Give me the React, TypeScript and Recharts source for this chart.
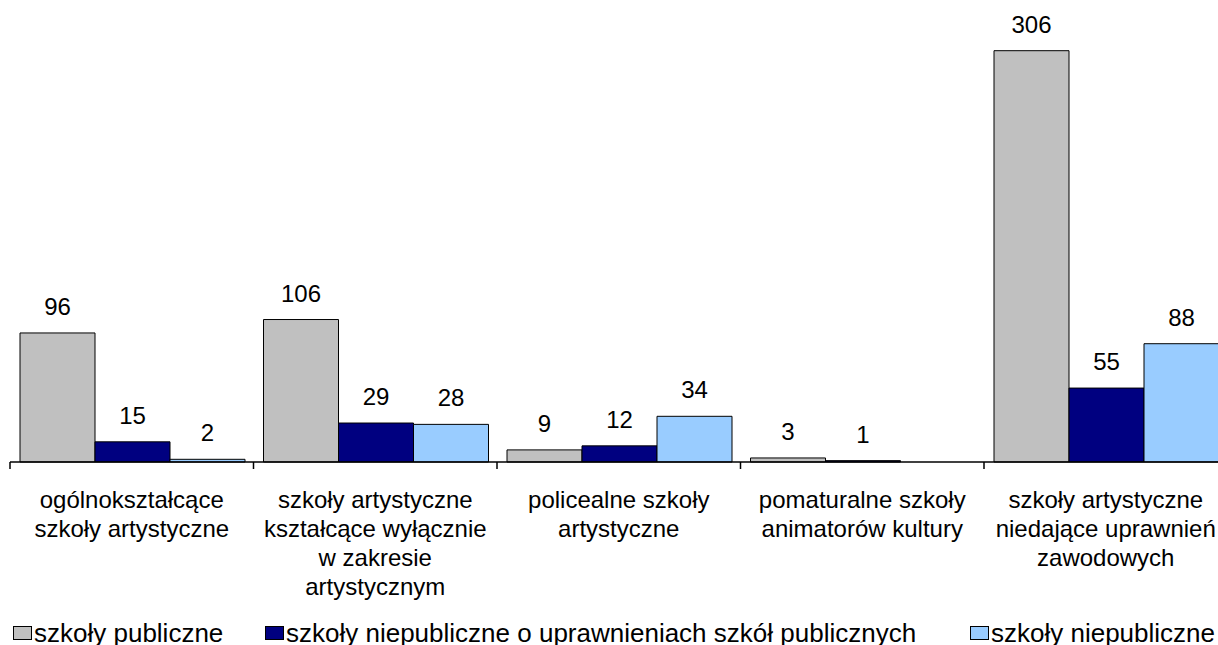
import { BarChart, Bar, XAxis, YAxis, LabelList } from "recharts";

const categories = [
  "ogólnokształcące\nszkoły artystyczne",
  "szkoły artystyczne\nkształcące wyłącznie\nw zakresie\nartystycznym",
  "policealne szkoły\nartystyczne",
  "pomaturalne szkoły\nanimatorów kultury",
  "szkoły artystyczne\nniedające uprawnień\nzawodowych",
];

const seriesNames = [
  "szkoły publiczne",
  "szkoły niepubliczne o uprawnieniach szkół publicznych",
  "szkoły niepubliczne",
];

const publicSchools = [96, 106, 9, 3, 306];
const nonPublicWithRights = [15, 29, 12, 1, 55];
const nonPublic: (number | null)[] = [2, 28, 34, null, 88];

const colors = ["#C0C0C0", "#000080", "#99CCFF"];
const keys = ["pub", "npr", "np"];

const data = categories.map((name, i) => ({
  name,
  pub: publicSchools[i],
  npr: nonPublicWithRights[i],
  np: nonPublic[i],
}));

const FONT = "'Liberation Sans', Arial, sans-serif";
const CHART_W = 1240;
const CHART_H = 645;
const M_LEFT = 10;
const M_RIGHT = 12.5;
const HALF_BAND = (CHART_W - M_LEFT - M_RIGHT) / categories.length / 2;

// legend item left edges
const legendLeft = [13, 265, 970];

function CategoryTick(props: any) {
  const { x, y, payload } = props;
  const lines = String(payload.value).split("\n");
  return (
    <g>
      <line
        x1={x - HALF_BAND}
        y1={y}
        x2={x - HALF_BAND}
        y2={y + 7}
        stroke="#000"
        strokeWidth={1.5}
      />
      <text
        x={x}
        y={y + 46}
        textAnchor="middle"
        fontSize={24}
        fill="#000"
        fontFamily={FONT}
      >
        {lines.map((l, i) => (
          <tspan key={i} x={x} dy={i === 0 ? 0 : 29}>
            {l}
          </tspan>
        ))}
      </text>
    </g>
  );
}

export default function App() {
  return (
    <div
      style={{
        position: "absolute",
        left: 0,
        top: 0,
        width: 1218,
        height: 645,
        overflow: "hidden",
        background: "#fff",
        fontFamily: FONT,
      }}
    >
      <BarChart
        width={CHART_W}
        height={CHART_H}
        data={data}
        margin={{ top: 5, right: M_RIGHT, left: M_LEFT, bottom: 53 }}
        barCategoryGap={10}
        barGap={0}
      >
        <XAxis
          dataKey="name"
          height={130}
          interval={0}
          tickLine={false}
          tickSize={0}
          tickMargin={0}
          axisLine={{ stroke: "#000", strokeWidth: 1.5 }}
          tick={<CategoryTick />}
        />
        <YAxis hide domain={[0, 340]} />
        {keys.map((k, i) => (
          <Bar
            key={k}
            dataKey={k}
            name={seriesNames[i]}
            fill={colors[i]}
            stroke="#000"
            strokeWidth={1}
            isAnimationActive={false}
          >
            <LabelList
              dataKey={k}
              position="top"
              offset={18}
              fill="#000"
              fontSize={24}
              fontFamily={FONT}
            />
          </Bar>
        ))}
      </BarChart>
      {seriesNames.map((s, i) => (
        <div
          key={s}
          style={{
            position: "absolute",
            left: legendLeft[i],
            top: 618,
            display: "flex",
            alignItems: "center",
            whiteSpace: "nowrap",
            fontSize: 26,
            lineHeight: "30px",
            color: "#000",
          }}
        >
          <span
            style={{
              display: "inline-block",
              width: 17,
              height: 12,
              background: colors[i],
              border: "1.5px solid #000",
              marginRight: 2,
            }}
          />
          {s}
        </div>
      ))}
    </div>
  );
}
